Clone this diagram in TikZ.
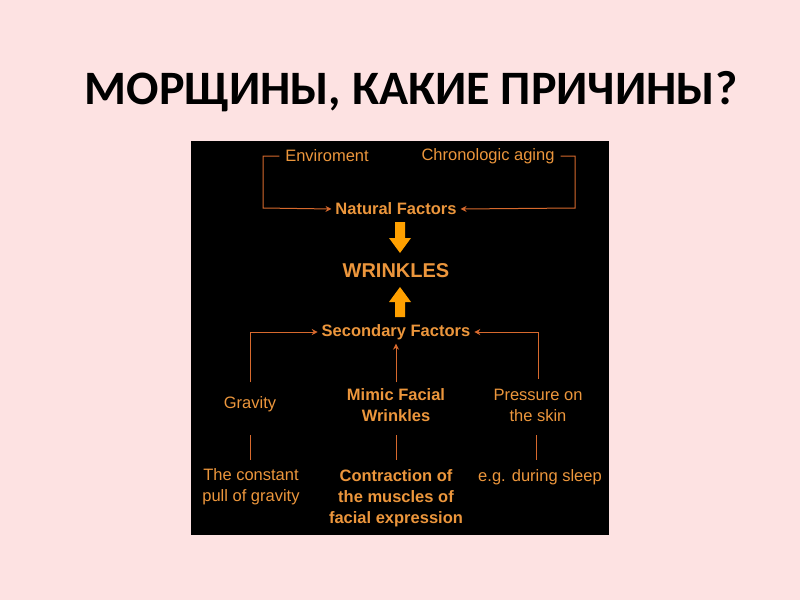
\documentclass[tikz,border=0pt]{standalone}
\usepackage{fontspec}
\setmainfont{Liberation Sans}
\newfontfamily\titlefont{Carlito}
\usetikzlibrary{arrows.meta}
\definecolor{bgpink}{RGB}{253,226,226}
\definecolor{txt}{RGB}{236,150,60}
\definecolor{ln}{RGB}{215,105,45}
\definecolor{big}{RGB}{255,160,0}
\begin{document}
\begin{tikzpicture}[x=1pt,y=-1pt,
  lbl/.style={text=txt,font=\fontsize{16.5}{21}\selectfont,inner sep=1pt,outer sep=3pt,align=center},
  blbl/.style={lbl,font=\fontsize{16.5}{21}\selectfont\bfseries},
  con/.style={draw=ln,line width=1pt},
  arr/.style={con,-{Stealth[length=6pt,width=6pt]}}]
\fill[bgpink] (0,0) rectangle (800,600);
\useasboundingbox (0,0) rectangle (800,600);
\node[font=\titlefont\fontsize{48}{52}\selectfont\bfseries] (title) at (411,92) {МОРЩИНЫ, КАКИЕ ПРИЧИНЫ?};
\fill[black] (191,141) rectangle (609,535);
\node[lbl] (env) at (327,156) {Enviroment};
\node[lbl] (chr) at (488,156) {Chronologic aging};
\node[blbl] (nat) at (396,209) {Natural Factors};
\node[blbl,font=\fontsize{20}{22}\selectfont\bfseries] (wr) at (396,271) {WRINKLES};
\node[blbl] (sec) at (396,332) {Secondary Factors};
\node[lbl] (grav) at (250,404) {Gravity};
\node[blbl] (mim) at (396,405) {Mimic Facial\\Wrinkles};
\node[lbl] (pres) at (538,405) {Pressure on\\the skin};
\node[lbl] (pull) at (251,487) {The constant\\pull of gravity};
\node[blbl] (con) at (396,498) {Contraction of\\the muscles of\\facial expression};
\node[lbl] (sleep) at (540,477) {e.g. during sleep};
\draw[arr] (env.west) ++(-2,0) -- (263,156) -- (263,208) -- (nat.west);
\draw[arr] (chr.east) ++(2,0) -- (575,156) -- (575,208) -- (nat.east);
\draw[arr] (grav.north) ++(0,-10) -- (250,332) -- (sec.west);
\draw[arr] (pres.north) ++(0,-6) -- (538,332) -- (sec.east);
\draw[arr] (mim.north) ++(0,-2) -- (sec.south);
\draw[con] (250,435) -- (250,460);
\draw[con] (396,435) -- (396,460);
\draw[con] (536,435) -- (536,460);
\fill[big] (395,222) -- (405,222) -- (405,238) -- (411,238) -- (400,253) -- (389,238) -- (395,238) -- cycle;
\fill[big] (395,317) -- (405,317) -- (405,302) -- (411,302) -- (400,287) -- (389,302) -- (395,302) -- cycle;
\end{tikzpicture}
\end{document}
